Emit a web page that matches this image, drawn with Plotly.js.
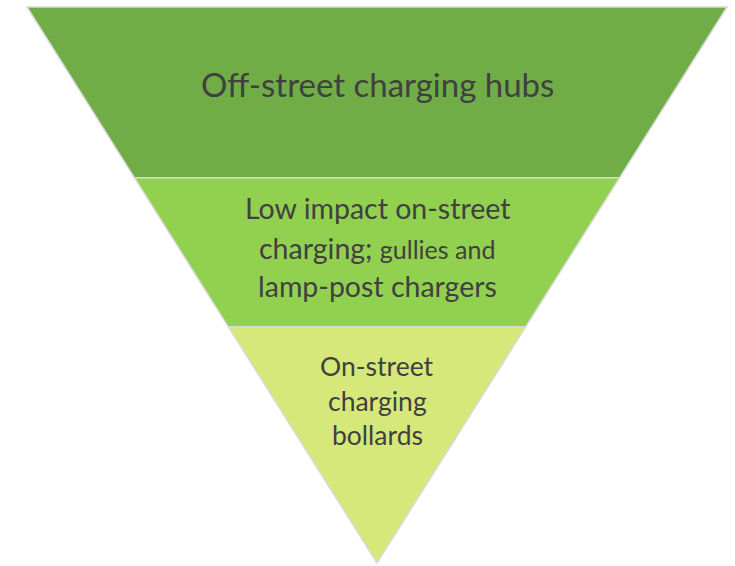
<!DOCTYPE html>
<html>
<head>
<meta charset="utf-8">
<script src="https://cdn.plot.ly/plotly-3.0.1.min.js"></script>
<style>html,body{margin:0;padding:0;background:#fff;}#chart{width:735px;height:566px;}</style>
</head>
<body>
<div id="chart"></div>
<script>
// Levels of the inverted pyramid (top to bottom)
var levels = ["Off-street charging hubs",
              "Low impact on-street charging; gullies and lamp-post chargers",
              "On-street charging bollards"];
// Relative area of each level
var shares = [52, 30, 18];
// Text lines displayed inside each level
var levelLines = [
  ["Off-street charging hubs"],
  ["Low impact on-street", "charging; <span style=\"font-size:25px\">gullies and</span>", "lamp-post chargers"],
  ["On-street", "charging", "bollards"]
];
var colors = ["#70AD47", "#92D050", "#D7E87B"];

// layout helpers (pixels in the 735x566 page)
var W = 735, H = 566;
var mL = 27, mR = 8, mT = 7, mB = 3;
var lineCenters = [[83.5], [208.5, 247.5, 286], [366, 401.5, 435]];
var lineSizes = [[33], [28.5, 28.5, 28.5], [26.5, 26.5, 26.5]];

var annotations = [];
for (var i = 0; i < levelLines.length; i++) {
  for (var j = 0; j < levelLines[i].length; j++) {
    annotations.push({
      xref: 'paper', yref: 'paper',
      x: 0.5,
      y: (H - mB - lineCenters[i][j]) / (H - mT - mB),
      xanchor: 'center', yanchor: 'middle',
      showarrow: false,
      text: levelLines[i][j],
      font: {family: 'Lato, "Open Sans", sans-serif', size: lineSizes[i][j], color: '#404040'}
    });
  }
}

var trace = {
  type: 'funnelarea',
  values: shares,
  labels: levels,
  text: levels,
  textinfo: 'none',
  hoverinfo: 'none',
  baseratio: 0,
  aspectratio: (H - mT - mB) / (W - mL - mR),
  marker: {colors: colors, line: {color: '#d9d9d9', width: 1.5}},
  domain: {x: [0, 1], y: [0, 1]},
  showlegend: false
};

var layout = {
  width: W, height: H,
  margin: {l: mL, r: mR, t: mT, b: mB, pad: 0},
  paper_bgcolor: '#ffffff',
  plot_bgcolor: '#ffffff',
  showlegend: false,
  annotations: annotations
};

Plotly.newPlot('chart', [trace], layout, {displayModeBar: false, staticPlot: true});
</script>
</body>
</html>
